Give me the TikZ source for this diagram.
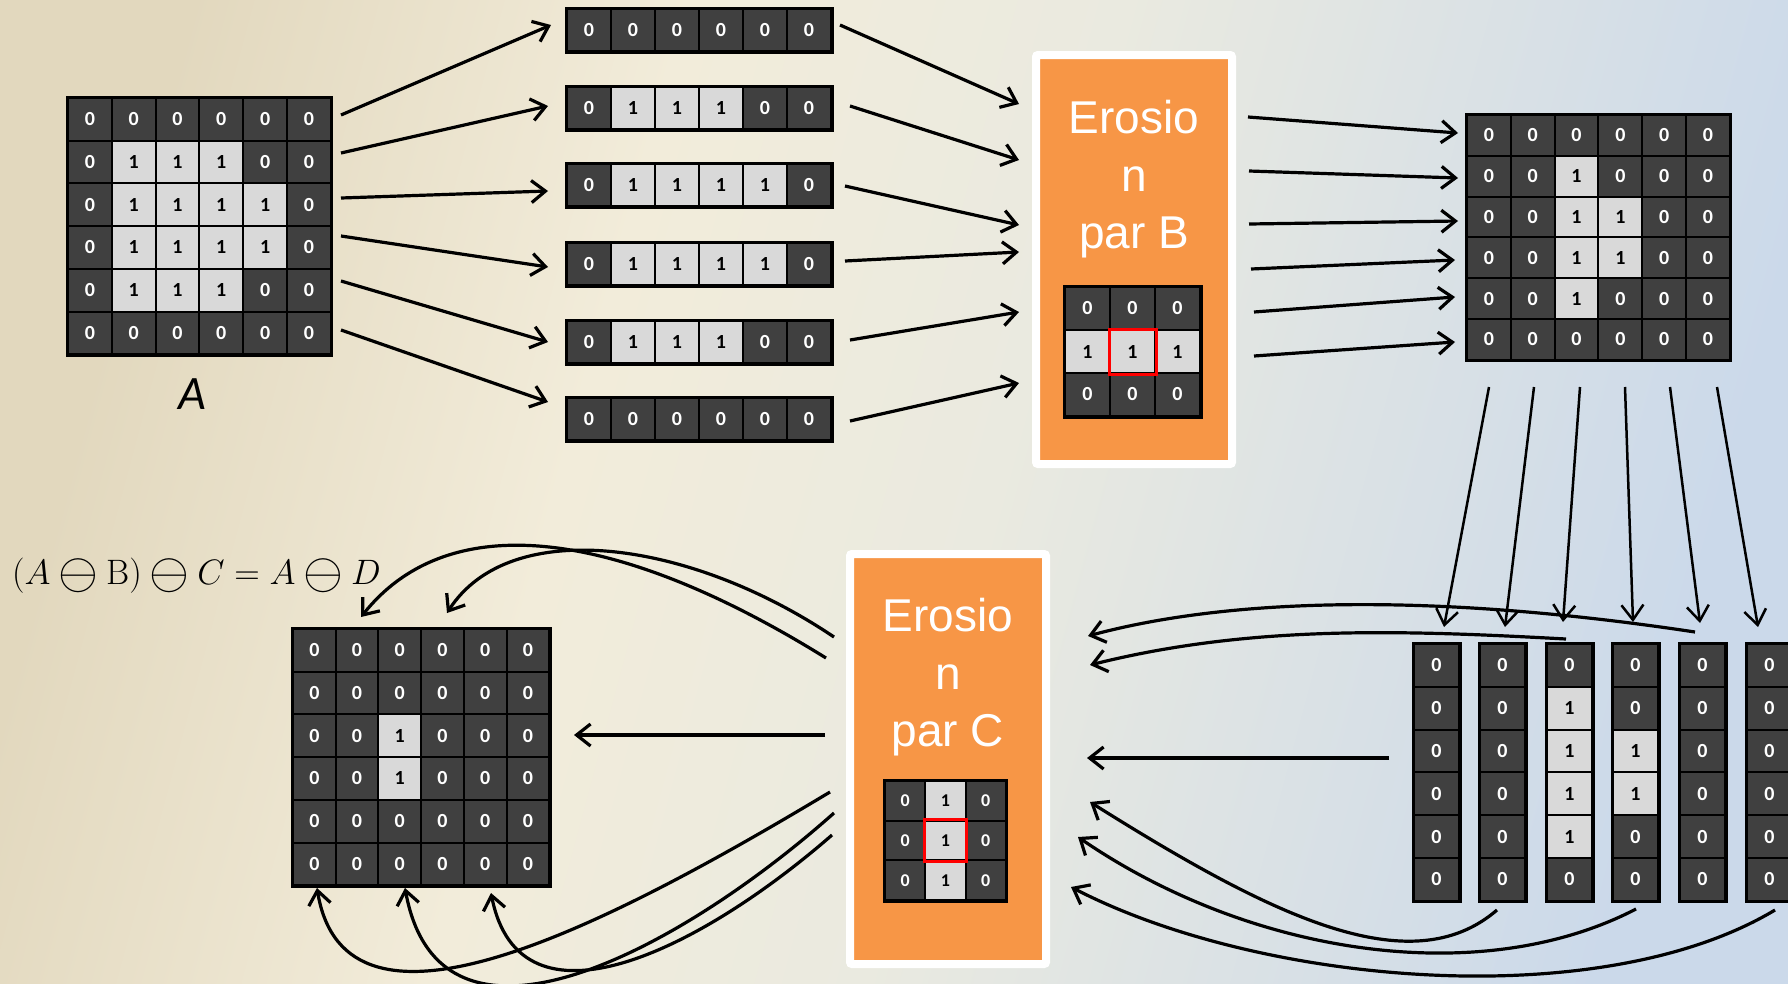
\documentclass[tikz,border=0pt]{standalone}
\usepackage{amsmath}
\usepackage{graphicx}
\usepackage{fontspec}
\usetikzlibrary{arrows.meta}
\newfontfamily\cellfont{Carlito}
\newfontfamily\boxfont{Liberation Sans}
\newcommand{\bigom}{\mathbin{\vcenter{\hbox{\scalebox{1.45}{$\ominus$}}}}}
\definecolor{darkc}{RGB}{64,64,64}
\definecolor{lightc}{RGB}{217,217,217}
\definecolor{orangec}{RGB}{247,150,70}
\definecolor{bgone}{RGB}{226,216,190}
\definecolor{bgtwo}{RGB}{242,236,218}
\definecolor{bgthree}{RGB}{234,234,224}
\definecolor{bgfour}{RGB}{203,217,234}
\pgfdeclarehorizontalshading{bgsh}{100bp}{color(0bp)=(bgone); color(25bp)=(bgone); color(40bp)=(bgtwo); color(53bp)=(bgthree); color(75bp)=(bgfour); color(100bp)=(bgfour)}
\tikzset{
  cellv/.code={\ifnum#1=1 \pgfkeysalso{/tikz/fill=lightc,/tikz/text=black}\else\pgfkeysalso{/tikz/fill=darkc,/tikz/text=white}\fi},
  cellbase/.style={draw=black, line width=2pt, inner sep=0pt, rectangle},
  frame/.style={draw=black, line width=3pt},
  arr/.style={-{Straight Barb[length=14pt,width=22pt]}, line width=3.2pt},
  arrthin/.style={-{Straight Barb[length=15pt,width=22pt]}, line width=2.5pt},
  obox/.style={fill=orangec, draw=white, line width=8pt, inner sep=0pt, rounded corners=2pt},
  boxtext/.style={text=white, font=\boxfont\fontsize{46}{57.5}\selectfont, align=center, inner sep=0pt, anchor=north},
  redsq/.style={draw=red, line width=3pt}
}
\newcommand{\mkgrid}[7]{%
  \foreach \rl [count=\ri from 1] in {#7} {
    \foreach \v [count=\ci from 1] in \rl {
      \node[cellbase, cellv=\v, minimum width=#4pt, minimum height=#5pt,
            font=\cellfont\bfseries\fontsize{#6}{#6}\selectfont]
        (#1-\ri-\ci) at ({#2+(\ci-0.5)*#4},{#3+(\ri-0.5)*#5}) {\v};
    }
  }
}
\begin{document}
\begin{tikzpicture}[x=1pt,y=-1pt]
\useasboundingbox (0,0) rectangle (1788,983);
\shade[shading=bgsh, shading angle=-15] (0,0) rectangle (1788,983);

% orange boxes
\node[obox, minimum width=196pt, minimum height=409pt] (boxB) at (1134,259.5) {};
\node[obox, minimum width=196pt, minimum height=410pt] (boxC) at (948,759) {};
\node[boxtext] (tB) at (1134,100) {Erosio\\n\\par B};
\node[boxtext] (tC) at (948,598) {Erosio\\n\\par C};

% grids
\mkgrid{A}{68}{98}{43.8}{42.7}{20}{{0,0,0,0,0,0},{0,1,1,1,0,0},{0,1,1,1,1,0},{0,1,1,1,1,0},{0,1,1,1,0,0},{0,0,0,0,0,0}}
\draw[frame] (A-1-1.north west) rectangle (A-6-6.south east);

\mkgrid{SA}{567}{9}{44}{42.4}{20}{{0,0,0,0,0,0}}
\mkgrid{SB}{567}{87}{44}{42.4}{20}{{0,1,1,1,0,0}}
\mkgrid{SC}{567}{164}{44}{42.4}{20}{{0,1,1,1,1,0}}
\mkgrid{SD}{567}{243}{44}{42.4}{20}{{0,1,1,1,1,0}}
\mkgrid{SE}{567}{321}{44}{42.4}{20}{{0,1,1,1,0,0}}
\mkgrid{SF}{567}{398}{44}{42.4}{20}{{0,0,0,0,0,0}}
\foreach \s in {SA,SB,SC,SD,SE,SF} {\draw[frame] (\s-1-1.north west) rectangle (\s-1-6.south east);}

\mkgrid{KB}{1065}{287}{45}{43}{20}{{0,0,0},{1,1,1},{0,0,0}}
\draw[frame] (KB-1-1.north west) rectangle (KB-3-3.south east);
\draw[redsq] (KB-2-2.north west) rectangle (KB-2-2.south east);

\mkgrid{R}{1467}{115}{43.8}{40.8}{20}{{0,0,0,0,0,0},{0,0,1,0,0,0},{0,0,1,1,0,0},{0,0,1,1,0,0},{0,0,1,0,0,0},{0,0,0,0,0,0}}
\draw[frame] (R-1-1.north west) rectangle (R-6-6.south east);

\mkgrid{KA}{1414}{644}{45}{42.8}{20}{{0},{0},{0},{0},{0},{0}}
\mkgrid{KD}{1480}{644}{45}{42.8}{20}{{0},{0},{0},{0},{0},{0}}
\mkgrid{KE}{1547}{644}{45}{42.8}{20}{{0},{1},{1},{1},{1},{0}}
\mkgrid{KF}{1613}{644}{45}{42.8}{20}{{0},{0},{1},{1},{0},{0}}
\mkgrid{KG}{1680}{644}{45}{42.8}{20}{{0},{0},{0},{0},{0},{0}}
\mkgrid{KH}{1747}{644}{45}{42.8}{20}{{0},{0},{0},{0},{0},{0}}
\foreach \s in {KA,KD,KE,KF,KG,KH} {\draw[frame] (\s-1-1.north west) rectangle (\s-6-1.south east);}

\mkgrid{KC}{885}{781}{40.3}{39.7}{18}{{0,1,0},{0,1,0},{0,1,0}}
\draw[frame] (KC-1-1.north west) rectangle (KC-3-3.south east);
\draw[redsq] (KC-2-2.north west) rectangle (KC-2-2.south east);

\mkgrid{F}{293}{629}{42.7}{42.7}{20}{{0,0,0,0,0,0},{0,0,0,0,0,0},{0,0,1,0,0,0},{0,0,1,0,0,0},{0,0,0,0,0,0},{0,0,0,0,0,0}}
\draw[frame] (F-1-1.north west) rectangle (F-6-6.south east);

% labels
\node[font=\cellfont\itshape\fontsize{48}{48}\selectfont, inner sep=0pt] (lblA) at (192,394) {A};
\node[anchor=west, inner sep=0pt] (form) at (12,576) {\scalebox{1.42}{\fontsize{24.88}{30}\selectfont$(A\bigom\mathrm{B})\bigom C=A\bigom D$}};

% A -> strips
\foreach \i/\sx/\sy/\ex/\ey in {1/341/115/551/25, 2/341/153/548/106, 3/341/198/548/191, 4/341/236/548/267, 5/341/281/548/342, 6/341/330/548/402} {
  \coordinate (as\i) at (\sx,\sy); \coordinate (ae\i) at (\ex,\ey);
  \draw[arr] (as\i) -- (ae\i);
}
% strips -> box B
\foreach \i/\sx/\sy/\ex/\ey in {1/840/25/1019/104, 2/850/106/1019/160, 3/845/186/1019/225, 4/845/261/1019/252, 5/850/340/1019/312, 6/850/421/1019/383} {
  \coordinate (bs\i) at (\sx,\sy); \coordinate (be\i) at (\ex,\ey);
  \draw[arr] (bs\i) -- (be\i);
}
% box B -> R
\foreach \i/\sx/\sy/\ex/\ey in {1/1248/117/1458/133, 2/1249/171/1458/178, 3/1249/224/1458/221, 4/1251/269/1455/260, 5/1254/312/1455/297, 6/1254/356/1455/342} {
  \coordinate (cs\i) at (\sx,\sy); \coordinate (ce\i) at (\ex,\ey);
  \draw[arr] (cs\i) -- (ce\i);
}
% R -> columns
\foreach \i/\sx/\sy/\ex/\ey in {1/1489/387/1444/627, 2/1534/387/1505/627, 3/1580/387/1563/622, 4/1625/387/1633/622, 5/1670/387/1700/623, 6/1717/387/1758/627} {
  \coordinate (ds\i) at (\sx,\sy); \coordinate (de\i) at (\ex,\ey);
  \draw[arrthin] (ds\i) -- (de\i);
}

% columns -> box C
\coordinate (es0) at (1389,758); \coordinate (ee0) at (1087,758);
\draw[arr] (es0) -- (ee0);
\coordinate (es1) at (1695,632); \coordinate (ee1) at (1088,636);
\draw[arr] (es1) .. controls (1450,595) and (1240,595) .. (ee1);
\coordinate (es2) at (1566,639); \coordinate (ee2) at (1090,665);
\draw[arr] (es2) .. controls (1400,630) and (1250,625) .. (ee2);
\coordinate (es3) at (1497,910); \coordinate (ee3) at (1090,802);
\draw[arr] (es3) .. controls (1410,985) and (1270,915) .. (ee3);
\coordinate (es4) at (1636,909); \coordinate (ee4) at (1078,837);
\draw[arr] (es4) .. controls (1480,990) and (1250,955) .. (ee4);
\coordinate (es5) at (1775,910); \coordinate (ee5) at (1071,887);
\draw[arr] (es5) .. controls (1600,1015) and (1260,985) .. (ee5);

% box C -> F
\coordinate (fs0) at (825,735); \coordinate (fe0) at (574,735);
\draw[arr] (fs0) -- (fe0);
\coordinate (fs1) at (826,658); \coordinate (fe1) at (361,617);
\draw[arr] (fs1) .. controls (620,530) and (450,505) .. (fe1);
\coordinate (fs2) at (834,637); \coordinate (fe2) at (447,613);
\draw[arr] (fs2) .. controls (690,540) and (510,515) .. (fe2);
\coordinate (gs1) at (830,792); \coordinate (ge1) at (317,888);
\draw[arr] (gs1) .. controls (600,930) and (345,1060) .. (ge1);
\coordinate (gs2) at (834,813); \coordinate (ge2) at (405,888);
\draw[arr] (gs2) .. controls (680,950) and (440,1080) .. (ge2);
\coordinate (gs3) at (832,835); \coordinate (ge3) at (491,893);
\draw[arr] (gs3) .. controls (700,950) and (520,1040) .. (ge3);
\end{tikzpicture}
\end{document}
